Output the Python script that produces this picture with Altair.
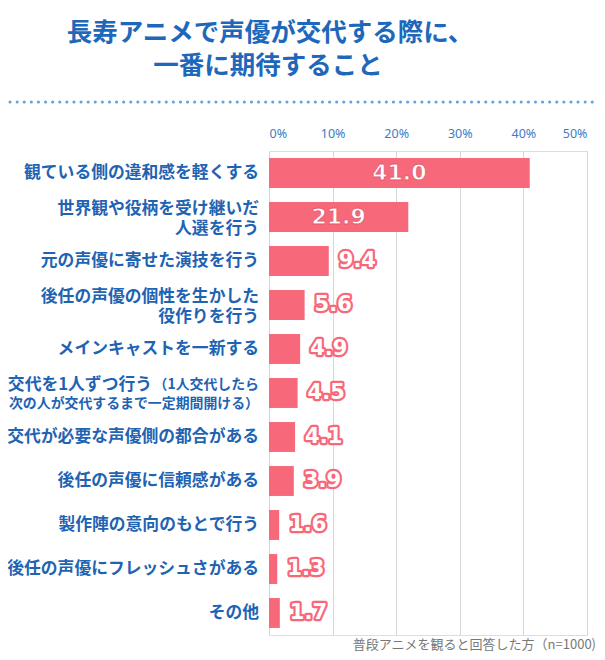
import altair as alt
import pandas as pd

# ---- data ----
categories = [
    "観ている側の違和感を軽くする",
    "世界観や役柄を受け継いだ\n人選を行う",
    "元の声優に寄せた演技を行う",
    "後任の声優の個性を生かした\n役作りを行う",
    "メインキャストを一新する",
    "交代を1人ずつ行う（1人交代したら\n次の人が交代するまで一定期間開ける）",
    "交代が必要な声優側の都合がある",
    "後任の声優に信頼感がある",
    "製作陣の意向のもとで行う",
    "後任の声優にフレッシュさがある",
    "その他",
]
values = [41.0, 21.9, 9.4, 5.6, 4.9, 4.5, 4.1, 3.9, 1.6, 1.3, 1.7]
special_main = "交代を1人ずつ行う"
special_small_1 = "（1人交代したら"
special_small_2 = "次の人が交代するまで一定期間開ける）"
x_ticks = [0, 10, 20, 30, 40, 50]
title_lines = ["長寿アニメで声優が交代する際に、", "一番に期待すること"]
footnote = "普段アニメを観ると回答した方（n=1000)"

SPECIAL = categories[5]
inside_threshold = 20

df = pd.DataFrame({"cat": categories, "value": values})
df["label"] = df["value"].map(lambda v: f"{v:.1f}")
df["line1"] = df["cat"].map(lambda c: c.split("\n")[0])
df["line2"] = df["cat"].map(lambda c: c.split("\n")[1] if "\n" in c else "")

BLUE = "#1f63b3"
PINK = "#f6687a"
JP = "Noto Sans CJK JP"
W = 318
LFS = 16.8

base = alt.Chart(df)
y = alt.Y("cat:N", sort=categories, axis=None,
          scale=alt.Scale(paddingInner=0.32, paddingOuter=0.16))
x = alt.X("value:Q", scale=alt.Scale(domain=[0, 50], nice=False),
          axis=alt.Axis(orient="top", values=x_ticks, labelExpr="datum.value + '%'",
                        grid=True, gridColor="#d6d6d6", gridWidth=1,
                        domain=False, ticks=False, labelPadding=11,
                        labelFont="Noto Sans", labelFontSize=12.5, labelColor="#3b7cc6",
                        title=None))

bars = base.mark_bar(color=PINK).encode(x=x, y=y)

lab_style = dict(align="right", baseline="middle", font=JP, fontWeight="bold",
                 fontSize=LFS, color=BLUE)
normal = base.transform_filter(alt.datum.cat != SPECIAL)
single = normal.transform_filter(alt.datum.line2 == "").mark_text(**lab_style).encode(
    y=y, x=alt.value(-10), text="line1:N")
double1 = normal.transform_filter(alt.datum.line2 != "").mark_text(dy=-8.5, **lab_style).encode(
    y=y, x=alt.value(-10), text="line1:N")
double2 = normal.transform_filter(alt.datum.line2 != "").mark_text(dy=11.5, **lab_style).encode(
    y=y, x=alt.value(-10), text="line2:N")

sp = base.transform_filter(alt.datum.cat == SPECIAL)
sp_main = sp.transform_calculate(t=f"'{special_main}'").mark_text(
    align="right", baseline="middle", font=JP, fontWeight="bold", fontSize=LFS,
    color=BLUE, dy=-8
).encode(y=y, x=alt.value(-117), text="t:N")
sp_s1 = sp.transform_calculate(t=f"'{special_small_1}'").mark_text(
    align="right", baseline="middle", font=JP, fontWeight="bold", fontSize=13.9,
    color=BLUE, dy=-8
).encode(y=y, x=alt.value(-10), text="t:N")
sp_s2 = sp.transform_calculate(t=f"'{special_small_2}'").mark_text(
    align="right", baseline="middle", font=JP, fontWeight="bold", fontSize=13.9,
    color=BLUE, dy=10.5
).encode(y=y, x=alt.value(-10), text="t:N")

inside = base.transform_filter(alt.datum.value >= inside_threshold).transform_calculate(
    mid="datum.value / 2").mark_text(
    align="center", baseline="middle", font="DejaVu Sans", fontWeight="bold", fontSize=22,
    fill="white", stroke="#e45a6c", strokeWidth=0.8
).encode(y=y, x=alt.X("mid:Q"), text="label:N")

outside_stroke = base.transform_filter(alt.datum.value < inside_threshold).mark_text(
    align="left", baseline="middle", font="DejaVu Sans", fontWeight="bold", fontSize=21,
    fill=PINK, stroke=PINK, strokeWidth=4.5, strokeJoin="round", dx=10
).encode(y=y, x="value:Q", text="label:N")
outside_fill = base.transform_filter(alt.datum.value < inside_threshold).mark_text(
    align="left", baseline="middle", font="DejaVu Sans", fontWeight="bold", fontSize=21,
    fill="white", dx=10
).encode(y=y, x="value:Q", text="label:N")

tdf = pd.DataFrame({"t": title_lines, "i": [0, 1]})
title1 = alt.Chart(tdf).transform_filter(alt.datum.i == 0).mark_text(
    align="center", baseline="middle", font=JP, fontWeight="bold", fontSize=25.5, color="#1e68bb"
).encode(x=alt.value(1), y=alt.value(-118), text="t:N")
title2 = alt.Chart(tdf).transform_filter(alt.datum.i == 1).mark_text(
    align="center", baseline="middle", font=JP, fontWeight="bold", fontSize=25.5, color="#1e68bb"
).encode(x=alt.value(-1), y=alt.value(-85), text="t:N")

dots = alt.Chart(pd.DataFrame({"a": [0]})).mark_rule(
    color="#63a3dc", strokeWidth=3, strokeDash=[0.1, 7], strokeCap="round"
).encode(x=alt.value(-259), x2=alt.value(327), y=alt.value(-49))

fn = alt.Chart(pd.DataFrame({"t": [footnote]})).mark_text(
    align="right", baseline="middle", font=JP, fontSize=13, color="#777777"
).encode(x=alt.value(327), y=alt.value(494), text="t:N")

chart = alt.layer(
    bars, single, double1, double2, sp_main, sp_s1, sp_s2, inside, outside_stroke, outside_fill,
    title1, title2, dots, fn
).properties(
    width=W, height=484,
    autosize=alt.AutoSizeParams(type="none"),
    padding={"left": 261, "top": 143, "right": 10, "bottom": 17},
).configure_view(stroke=None).configure(background="white")

chart.save("out.html", embed_options={"renderer": "svg", "actions": False})
